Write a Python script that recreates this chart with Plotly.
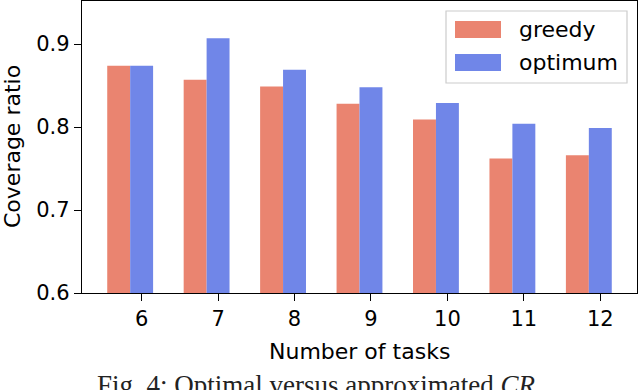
import plotly.graph_objects as go

tasks = [6, 7, 8, 9, 10, 11, 12]
greedy = [0.874, 0.857, 0.849, 0.828, 0.809, 0.762, 0.766]
optimum = [0.874, 0.907, 0.869, 0.848, 0.829, 0.804, 0.799]
y_ticks = [0.6, 0.7, 0.8, 0.9]

C_GREEDY = "#EA8470"
C_OPT = "#7086E8"
FONT = "DejaVu Sans"

fig = go.Figure()
fig.add_trace(go.Bar(x=tasks, y=greedy, width=0.3, offset=-0.45, name="greedy",
                     marker=dict(color=C_GREEDY, line=dict(width=0)), base=0))
fig.add_trace(go.Bar(x=tasks, y=optimum, width=0.3, offset=-0.15, name="optimum",
                     marker=dict(color=C_OPT, line=dict(width=0)), base=0))

L, R, T, B = 82, 637, 1, 293
W, H = R - L, B - T
def px(x): return (x - L) / W
def py(y): return (B - y) / H

fig.update_layout(
    width=640, height=390,
    margin=dict(l=L, r=640 - R, t=T, b=390 - B),
    paper_bgcolor="white", plot_bgcolor="white",
    showlegend=False, barmode="overlay",
    font=dict(family=FONT, color="black", size=21),
    xaxis=dict(range=[5.22, 12.48], tickvals=tasks, ticktext=[str(t) for t in tasks],
               showgrid=False, zeroline=False, showline=True, linecolor="black", linewidth=1.3,
               mirror=True, ticks="outside", ticklen=7, tickwidth=1.3, tickcolor="black",
               tickfont=dict(size=21)),
    yaxis=dict(range=[0.6, 0.952], tickvals=y_ticks, ticktext=[f"{v:.1f}" for v in y_ticks],
               showgrid=False, zeroline=False, showline=True, linecolor="black", linewidth=1.3,
               mirror=True, ticks="outside", ticklen=7, tickwidth=1.3, tickcolor="black",
               tickfont=dict(size=21)),
)

# legend frame
fig.add_shape(type="rect", xref="paper", yref="paper",
              x0=px(446), x1=px(627), y0=py(83), y1=py(11),
              line=dict(color="#cccccc", width=1.2), fillcolor="white", layer="above")
fig.add_shape(type="rect", xref="paper", yref="paper",
              x0=px(455), x1=px(501), y0=py(38), y1=py(21),
              line=dict(width=0), fillcolor=C_GREEDY, layer="above")
fig.add_shape(type="rect", xref="paper", yref="paper",
              x0=px(455), x1=px(501), y0=py(71), y1=py(54),
              line=dict(width=0), fillcolor=C_OPT, layer="above")
fig.add_annotation(xref="paper", yref="paper", x=px(517), y=py(29.5), text="greedy",
                   showarrow=False, xanchor="left", yanchor="middle", font=dict(size=22))
fig.add_annotation(xref="paper", yref="paper", x=px(517), y=py(62.5), text="optimum",
                   showarrow=False, xanchor="left", yanchor="middle", font=dict(size=22))

# axis titles
fig.add_annotation(xref="paper", yref="paper", x=px(12), y=0.5, text="Coverage ratio",
                   textangle=-90, showarrow=False, xanchor="center", yanchor="middle",
                   font=dict(size=22))
fig.add_annotation(xref="paper", yref="paper", x=0.5, y=py(351), text="Number of tasks",
                   showarrow=False, xanchor="center", yanchor="middle", font=dict(size=22))

# caption
fig.add_annotation(xref="paper", yref="paper", x=px(316), y=py(385),
                   text="Fig. 4: Optimal versus approximated <i>CR</i>",
                   showarrow=False, xanchor="center", yanchor="middle",
                   font=dict(size=27, family="Liberation Serif", color="#222222"))

fig.write_html("out.html", config={"displayModeBar": False},
               post_script="document.body.style.margin='0';document.body.style.overflow='hidden';")
